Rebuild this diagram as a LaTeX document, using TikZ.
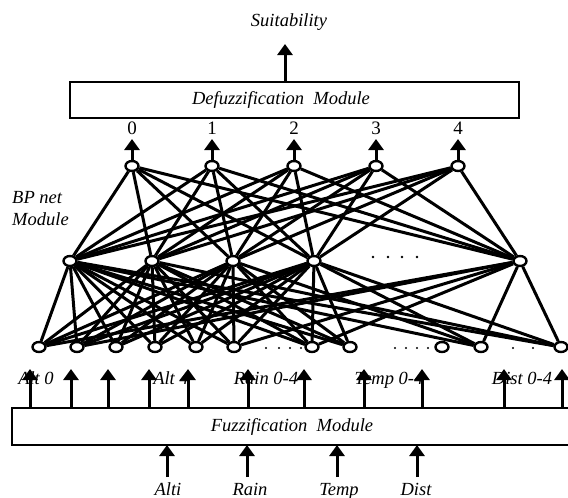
\documentclass[tikz,border=0pt]{standalone}
\usepackage{fontspec}
\setmainfont{Liberation Serif}
\usetikzlibrary{shapes.geometric,arrows.meta,backgrounds}
\begin{document}
\begin{tikzpicture}[x=1pt,y=-1pt,
  neuron/.style={ellipse,draw,line width=2.4pt,minimum width=13pt,minimum height=10pt,inner sep=0pt,fill=white},
  link/.style={line width=3pt},
  uparrow/.style={line width=3pt,-{Triangle[width=15pt,length=11pt]}},
  modbox/.style={draw,line width=2.8pt,inner sep=0pt},
  lbl/.style={font=\fontsize{18.5}{21}\selectfont\itshape,inner sep=0pt},
  num/.style={font=\fontsize{19}{21}\selectfont,inner sep=0pt},
  dotty/.style={circle,fill=black,minimum size=2.8pt,inner sep=0pt}]
\useasboundingbox (0,0) rectangle (568,498);

% modules
\node[modbox,minimum width=449pt,minimum height=36pt] (defuzz) at (294.5,100) {};
\node[lbl] (deftxt) at (281,100) {Defuzzification\ \ Module};
\node[modbox,minimum width=558pt,minimum height=37pt] (fuzz) at (291,426.5) {};
\node[lbl] (fuztxt) at (292,427) {Fuzzification\ \ Module};

\node[lbl] (suit) at (289,22) {Suitability};
\coordinate (suitbase) at (285,82);
\coordinate (suittip) at (285,44);
\draw[uparrow] (suitbase) -- (suittip);

\node[lbl,anchor=west,align=left] (bp) at (12,209) {BP net\\[1pt]Module};

% output layer
\foreach \i/\x in {0/132,1/212,2/294,3/376,4/458}{
  \node[neuron] (o\i) at (\x,166) {};
  \node[num] (d\i) at (\x,128) {\i};
  \coordinate (ot\i) at (\x,139);
  \draw[uparrow] (o\i) -- (ot\i);
}

% hidden layer
\foreach \j/\x in {1/70,2/152,3/233,4/314,5/520}{
  \node[neuron] (h\j) at (\x,261) {};
}
\foreach \x in {373,388,402,417}{\node[dotty] at (\x,257) {};}

% input layer
\foreach \k/\x in {1/39,2/77,3/116,4/155,5/196,6/234,7/312,8/350,9/442,10/481,11/561}{
  \node[neuron] (n\k) at (\x,347) {};
}
\foreach \x in {266,279,290,301,395,406,417,428,513,533}{\node[dotty,minimum size=2.2pt] at (\x,348) {};}

% connections
\begin{scope}[on background layer]
\foreach \i in {0,...,4}{
  \foreach \j in {1,...,5}{
    \draw[link] (o\i) -- (h\j);
  }
}
\foreach \j in {1,...,4}{
  \foreach \k in {1,...,8}{
    \draw[link] (h\j) -- (n\k);
  }
}
\foreach \j/\k in {1/10,3/10,4/10,1/11,2/11,4/11,5/1,5/2,5/6,5/7,5/10,5/11}{
  \draw[link] (h\j) -- (n\k);
}
\end{scope}

% labels of inputs
\node[lbl,anchor=base] (l1) at (36,384) {Alt 0};
\node[lbl,anchor=base] (l2) at (171,384) {Alt 4};
\node[lbl,anchor=base] (l3) at (266,384) {Rain 0-4};
\node[lbl,anchor=base] (l4) at (389,384) {Temp 0-4};
\node[lbl,anchor=base] (l5) at (522,384) {Dist 0-4};

% arrows from fuzzification
\foreach \x in {30,71,108,149,188,248,304,364,422,504,562}{
  \coordinate (fb\x) at (\x,408);
  \coordinate (ft\x) at (\x,369);
  \draw[uparrow] (fb\x) -- (ft\x);
}

% raw inputs
\foreach \x/\t/\lx in {167/Alti/168,247/Rain/250,337/Temp/339,417/Dist/416}{
  \coordinate (ib\x) at (\x,477);
  \coordinate (it\x) at (\x,445);
  \draw[uparrow] (ib\x) -- (it\x);
  \node[lbl,anchor=base] at (\lx,495) {\t};
}
\end{tikzpicture}
\end{document}
